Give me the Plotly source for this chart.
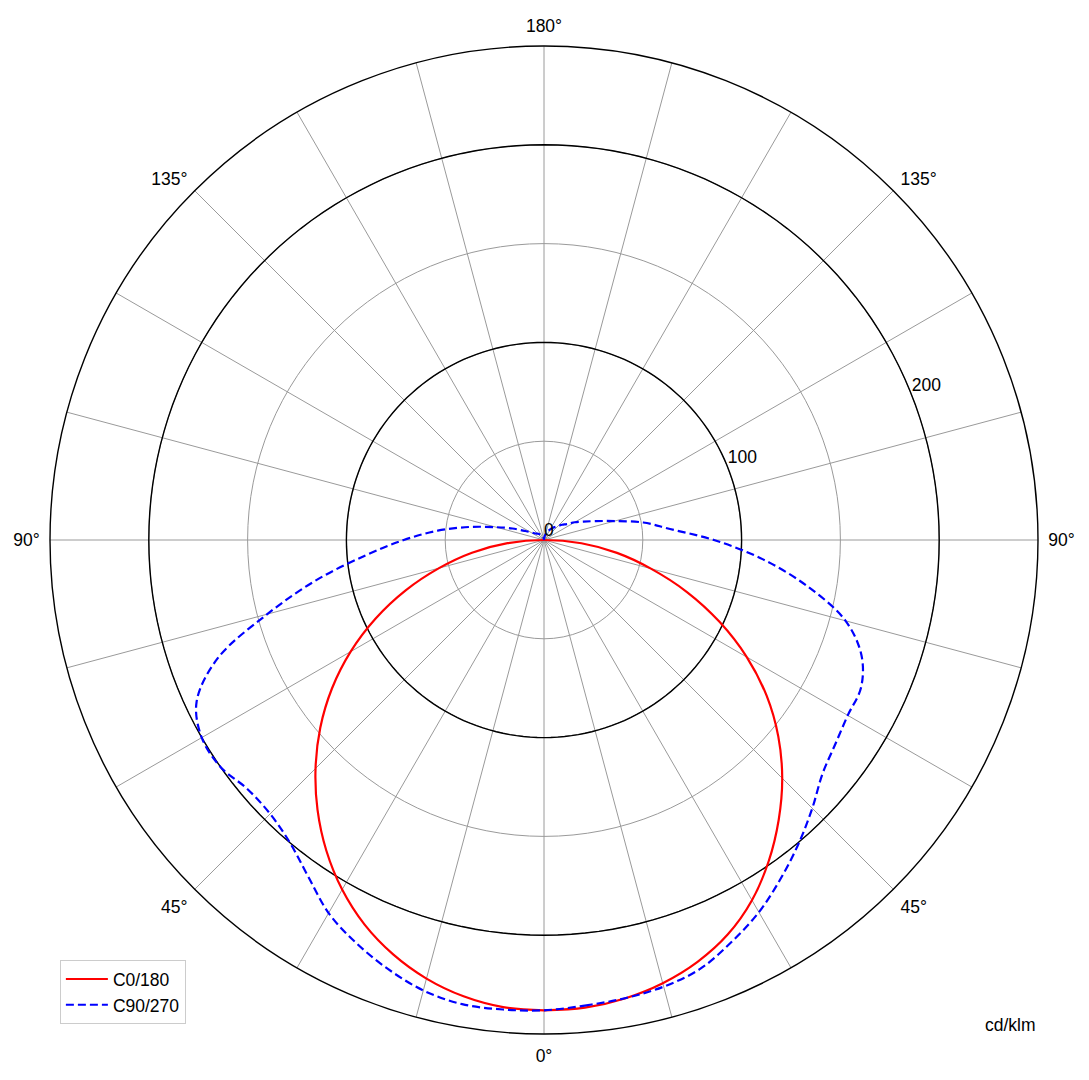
import plotly.graph_objects as go

# Gamma angles (degrees from nadir)
GAMMA = list(range(0, 181, 5))
GAMMA_RED = list(range(0, 91, 5))

# C0/180 (cd/klm) – right half (C0) and left half (C180)
C0 = [238, 237.6, 235.6, 232.2, 227.2, 220.2, 210.5, 198.3, 184.8, 170.5, 154.8, 137.6, 118.5, 98, 77, 56, 37.5, 19, 0]
C180 = [238, 237.3, 234.5, 229.8, 223.2, 214.8, 204.3, 192, 178.3, 163.5, 147.8, 131, 113, 94, 74.5, 55, 37, 18.5, 0]

# C90/270 (cd/klm) – right half (C90) and left half (C270)
C90 = [238, 236.5, 235.5, 234, 231, 224.5, 217.5, 209, 200.5, 192, 184, 180, 177.5, 177, 171, 158,
       135.5, 111, 86, 64, 51, 37, 28, 22, 18, 14, 12, 10, 8.5, 7.5, 6, 5, 4, 3, 2, 1, 0.5]
C270 = [238, 238.5, 238.5, 236, 231, 225, 218, 208, 200, 196, 196, 200, 200, 194, 176, 145,
        117, 91, 71, 54, 38, 25, 17, 11, 8, 6, 5, 4.5, 4, 3.5, 3, 2.5, 2, 1.5, 1, 0.5, 0.5]

RADIAL_GRID = [50, 100, 150, 200]
MAJOR_RINGS = [100, 200]
RADIAL_LABELS = [0, 100, 200]
R_MAX = 250
ANG_TICKS = list(range(0, 360, 15))
ANG_LABELS = {0: "0°", 45: "45°", 90: "90°", 135: "135°", 180: "180°", 225: "135°", 270: "90°", 315: "45°"}

FONT = "Liberation Sans, Arial, sans-serif"
FS = 17.5

fig = go.Figure()

# black major rings
ring_theta = list(range(0, 361, 2))
for rv in MAJOR_RINGS:
    fig.add_trace(go.Scatterpolar(r=[rv] * len(ring_theta), theta=ring_theta, mode="lines",
                                  line=dict(color="black", width=1.4), showlegend=False,
                                  hoverinfo="skip"))

# red curve: left side (C180) from 90 down to 0, then right (C0) 0..90
red_theta = [360 - g for g in reversed(GAMMA_RED)] + GAMMA_RED
red_r = list(reversed(C180)) + C0
fig.add_trace(go.Scatterpolar(r=red_r, theta=red_theta, mode="lines", name="C0/180",
                              line=dict(color="red", width=2.2, shape="spline", smoothing=1.0)))

# blue curve: right (C90) 0..180 then left (C270) 180..0
blue_theta = GAMMA + [360 - g for g in reversed(GAMMA)]
blue_r = C90 + list(reversed(C270))
fig.add_trace(go.Scatterpolar(r=blue_r, theta=blue_theta, mode="lines", name="C90/270",
                              line=dict(color="blue", width=2.2, dash="8px,4px", shape="spline", smoothing=1.0)))

# radial tick labels
fig.add_trace(go.Scatterpolar(r=RADIAL_LABELS, theta=[111.5] * len(RADIAL_LABELS), mode="text",
                              text=[str(v) for v in RADIAL_LABELS], textposition="top right",
                              textfont=dict(family=FONT, size=FS, color="black"),
                              showlegend=False, hoverinfo="skip"))

fig.update_layout(
    width=1081, height=1072,
    margin=dict(l=42, r=51, t=38, b=46),
    paper_bgcolor="white",
    font=dict(family=FONT, size=FS, color="black"),
    polar=dict(
        domain=dict(x=[0, 1], y=[0, 1]),
        bgcolor="white",
        angularaxis=dict(
            rotation=-90, direction="counterclockwise",
            tickmode="array", tickvals=ANG_TICKS,
            ticktext=[ANG_LABELS.get(t, "") for t in ANG_TICKS],
            ticks="outside", ticklen=6, tickcolor="rgba(0,0,0,0)",
            showline=True, linecolor="black", linewidth=1.4,
            gridcolor="#9a9a9a", gridwidth=1,
            tickfont=dict(family=FONT, size=FS, color="black"),
        ),
        radialaxis=dict(
            range=[0, R_MAX], tickmode="array", tickvals=RADIAL_GRID,
            showticklabels=False, ticks="", showline=False,
            gridcolor="#9a9a9a", gridwidth=1,
        ),
    ),
    legend=dict(x=0.01, y=0.01, xanchor="left", yanchor="bottom",
                bgcolor="white", bordercolor="#cccccc", borderwidth=1,
                font=dict(family=FONT, size=FS), itemwidth=42),
    annotations=[dict(text="cd/klm", xref="paper", yref="paper", x=0.972, y=0.009,
                      xanchor="center", yanchor="middle", showarrow=False,
                      font=dict(family=FONT, size=FS, color="black"))],
)

fig.write_html("out.html")
